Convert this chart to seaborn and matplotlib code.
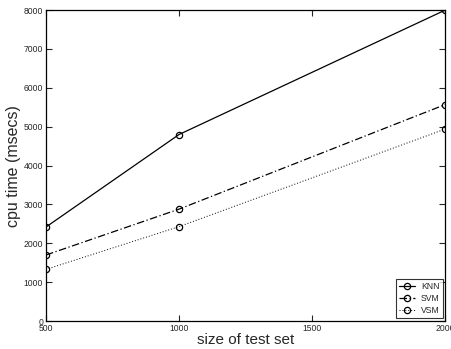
import matplotlib
matplotlib.use("Agg")
import matplotlib.pyplot as plt
import seaborn as sns
import pandas as pd

sizes = [500, 1000, 2000]
knn = [2420, 4800, 8000]
svm = [1700, 2880, 5570]
vsm = [1330, 2430, 4940]
series_names = ["KNN", "SVM", "VSM"]
xticks = [500, 1000, 1500, 2000]
yticks = [0, 1000, 2000, 3000, 4000, 5000, 6000, 7000, 8000]

sns.set_style("white")
plt.rcParams["font.family"] = ["Liberation Sans", "DejaVu Sans"]

df = pd.DataFrame({
    "size": sizes * 3,
    "time": knn + svm + vsm,
    "method": [n for n in series_names for _ in sizes],
})

fig = plt.figure(figsize=(4.51, 3.49), dpi=100)
ax = fig.add_axes([0.102, 0.080, 0.885, 0.891])

styles = {"KNN": "-", "SVM": (0, (6, 2, 1, 2)), "VSM": (0, (1, 2))}
widths = {"KNN": 0.9, "SVM": 0.9, "VSM": 0.7}
for name in series_names:
    sub = df[df["method"] == name]
    sns.lineplot(data=sub, x="size", y="time", ax=ax, color="black",
                 linestyle=styles[name], linewidth=widths[name], marker="o",
                 markersize=4.5, markerfacecolor="none", markeredgecolor="black",
                 markeredgewidth=0.9, label=name)

ax.set_xlim(500, 2000)
ax.set_ylim(0, 8000)
ax.set_xticks(xticks)
ax.set_yticks(yticks)
ax.tick_params(direction="in", length=4, width=0.8, labelsize=6.2,
               top=True, right=True, bottom=True, left=True, pad=2)
for s in ax.spines.values():
    s.set_visible(True)
    s.set_color("black")
    s.set_linewidth(0.9)
ax.set_xlabel("size of test set", fontsize=11, labelpad=0)
ax.set_ylabel("cpu time (msecs)", fontsize=11.5, labelpad=2)
for lbl in ax.get_xticklabels():
    lbl.set_clip_on(False)

leg = ax.legend(loc="lower right", fontsize=6.2, frameon=True, fancybox=False,
                edgecolor="black", handlelength=1.8, borderpad=0.35,
                labelspacing=0.35, handletextpad=0.7, borderaxespad=0.3)
leg.get_frame().set_linewidth(0.8)

fig.savefig("out.png", dpi=100)
